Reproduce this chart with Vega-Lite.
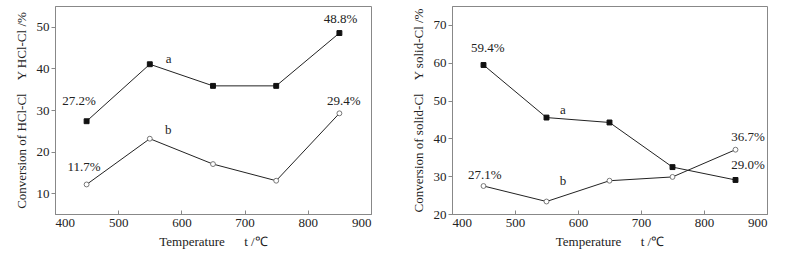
{
  "$schema": "https://vega.github.io/schema/vega-lite/v6.json",
  "padding": {"left": 14, "top": 5, "right": 5, "bottom": 5},
  "background": "white",
  "config": {
    "font": "Liberation Serif, Times New Roman, serif",
    "view": {"stroke": "#888888", "strokeWidth": 1},
    "axis": {"labelFont": "Liberation Serif, Times New Roman, serif", "titleFont": "Liberation Serif, Times New Roman, serif", "labelFontSize": 13, "titleFontSize": 13, "titleFontWeight": "normal", "labelColor": "#222", "titleColor": "#222", "domainColor": "#888", "tickColor": "#888", "grid": false, "tickSize": 4}
  },
  "datasets": {
    "pts": [
      {"panel": "L", "series": "a", "t": 450, "y": 27.3},
      {"panel": "L", "series": "a", "t": 550, "y": 41.0},
      {"panel": "L", "series": "a", "t": 650, "y": 35.8},
      {"panel": "L", "series": "a", "t": 750, "y": 35.8},
      {"panel": "L", "series": "a", "t": 850, "y": 48.5},
      {"panel": "L", "series": "b", "t": 450, "y": 12.1},
      {"panel": "L", "series": "b", "t": 550, "y": 23.1},
      {"panel": "L", "series": "b", "t": 650, "y": 17.0},
      {"panel": "L", "series": "b", "t": 750, "y": 13.0},
      {"panel": "L", "series": "b", "t": 850, "y": 29.2},
      {"panel": "R", "series": "a", "t": 450, "y": 59.4},
      {"panel": "R", "series": "a", "t": 550, "y": 45.5},
      {"panel": "R", "series": "a", "t": 650, "y": 44.2},
      {"panel": "R", "series": "a", "t": 750, "y": 32.4},
      {"panel": "R", "series": "a", "t": 850, "y": 29.0},
      {"panel": "R", "series": "b", "t": 450, "y": 27.4},
      {"panel": "R", "series": "b", "t": 550, "y": 23.3},
      {"panel": "R", "series": "b", "t": 650, "y": 28.8},
      {"panel": "R", "series": "b", "t": 750, "y": 29.8},
      {"panel": "R", "series": "b", "t": 850, "y": 37.0}
    ],
    "labels": [
      {"panel": "L", "t": 438, "y": 32.2, "text": "27.2%"},
      {"panel": "L", "t": 852, "y": 51.9, "text": "48.8%"},
      {"panel": "L", "t": 580, "y": 42.2, "text": "a"},
      {"panel": "L", "t": 857, "y": 32.2, "text": "29.4%"},
      {"panel": "L", "t": 579, "y": 25.3, "text": "b"},
      {"panel": "L", "t": 446, "y": 16.3, "text": "11.7%"},
      {"panel": "R", "t": 457, "y": 64.0, "text": "59.4%"},
      {"panel": "R", "t": 576, "y": 47.5, "text": "a"},
      {"panel": "R", "t": 870, "y": 40.4, "text": "36.7%"},
      {"panel": "R", "t": 870, "y": 33.0, "text": "29.0%"},
      {"panel": "R", "t": 452, "y": 30.3, "text": "27.1%"},
      {"panel": "R", "t": 576, "y": 28.7, "text": "b"}
    ]
  },
  "hconcat": [
    {
      "width": 316, "height": 208,
      "layer": [
        {
          "data": {"name": "pts"},
          "transform": [{"filter": "datum.panel === 'L'"}],
          "mark": {"type": "line", "color": "#222", "strokeWidth": 1},
          "encoding": {
            "x": {"field": "t", "type": "quantitative", "scale": {"domain": [400, 900], "nice": false}, "axis": {"values": [400, 450, 500, 550, 600, 650, 700, 750, 800, 850, 900], "labelExpr": "datum.value % 100 === 0 ? datum.label : ''", "tickSize": -4, "labelPadding": 6, "title": "Temperature\u00a0\u00a0\u00a0\u00a0\u00a0\u00a0t /℃", "titlePadding": 6}},
            "y": {"field": "y", "type": "quantitative", "scale": {"domain": [5, 55], "nice": false, "zero": false}, "axis": {"values": [10, 15, 20, 25, 30, 35, 40, 45, 50], "labelExpr": "datum.value % 10 === 0 ? datum.label : ''", "title": "Conversion of HCl-Cl\u00a0\u00a0\u00a0\u00a0Y HCl-Cl /%", "titlePadding": 8}},
            "detail": {"field": "series"}
          }
        },
        {
          "data": {"name": "pts"},
          "transform": [{"filter": "datum.panel === 'L'"}],
          "mark": {"type": "point", "size": 24, "opacity": 1, "strokeWidth": 1},
          "encoding": {
            "x": {"field": "t", "type": "quantitative"},
            "y": {"field": "y", "type": "quantitative"},
            "shape": {"field": "series", "scale": {"domain": ["a", "b"], "range": ["square", "circle"]}, "legend": null},
            "fill": {"field": "series", "scale": {"domain": ["a", "b"], "range": ["#111", "white"]}, "legend": null},
            "stroke": {"field": "series", "scale": {"domain": ["a", "b"], "range": ["#111", "#777"]}, "legend": null}
          }
        },
        {
          "data": {"name": "labels"},
          "transform": [{"filter": "datum.panel === 'L'"}],
          "mark": {"type": "text", "fontSize": 13, "color": "#222", "font": "Liberation Serif, Times New Roman, serif"},
          "encoding": {
            "x": {"field": "t", "type": "quantitative"},
            "y": {"field": "y", "type": "quantitative"},
            "text": {"field": "text"}
          }
        }
      ]
    },
    {
      "width": 315, "height": 208,
      "layer": [
        {
          "data": {"name": "pts"},
          "transform": [{"filter": "datum.panel === 'R'"}],
          "mark": {"type": "line", "color": "#222", "strokeWidth": 1},
          "encoding": {
            "x": {"field": "t", "type": "quantitative", "scale": {"domain": [400, 900], "nice": false}, "axis": {"values": [400, 450, 500, 550, 600, 650, 700, 750, 800, 850, 900], "labelExpr": "datum.value % 100 === 0 ? datum.label : ''", "tickSize": -4, "labelPadding": 6, "title": "Temperature\u00a0\u00a0\u00a0\u00a0\u00a0\u00a0t /℃", "titlePadding": 6}},
            "y": {"field": "y", "type": "quantitative", "scale": {"domain": [20, 75], "nice": false, "zero": false}, "axis": {"values": [20, 25, 30, 35, 40, 45, 50, 55, 60, 65, 70], "labelExpr": "datum.value % 10 === 0 ? datum.label : ''", "title": "Conversion of solid-Cl\u00a0\u00a0\u00a0\u00a0Y solid-Cl /%", "titlePadding": 8}},
            "detail": {"field": "series"}
          }
        },
        {
          "data": {"name": "pts"},
          "transform": [{"filter": "datum.panel === 'R'"}],
          "mark": {"type": "point", "size": 24, "opacity": 1, "strokeWidth": 1},
          "encoding": {
            "x": {"field": "t", "type": "quantitative"},
            "y": {"field": "y", "type": "quantitative"},
            "shape": {"field": "series", "scale": {"domain": ["a", "b"], "range": ["square", "circle"]}, "legend": null},
            "fill": {"field": "series", "scale": {"domain": ["a", "b"], "range": ["#111", "white"]}, "legend": null},
            "stroke": {"field": "series", "scale": {"domain": ["a", "b"], "range": ["#111", "#777"]}, "legend": null}
          }
        },
        {
          "data": {"name": "labels"},
          "transform": [{"filter": "datum.panel === 'R'"}],
          "mark": {"type": "text", "fontSize": 13, "color": "#222", "font": "Liberation Serif, Times New Roman, serif"},
          "encoding": {
            "x": {"field": "t", "type": "quantitative"},
            "y": {"field": "y", "type": "quantitative"},
            "text": {"field": "text"}
          }
        }
      ]
    }
  ],
  "spacing": 39
}
